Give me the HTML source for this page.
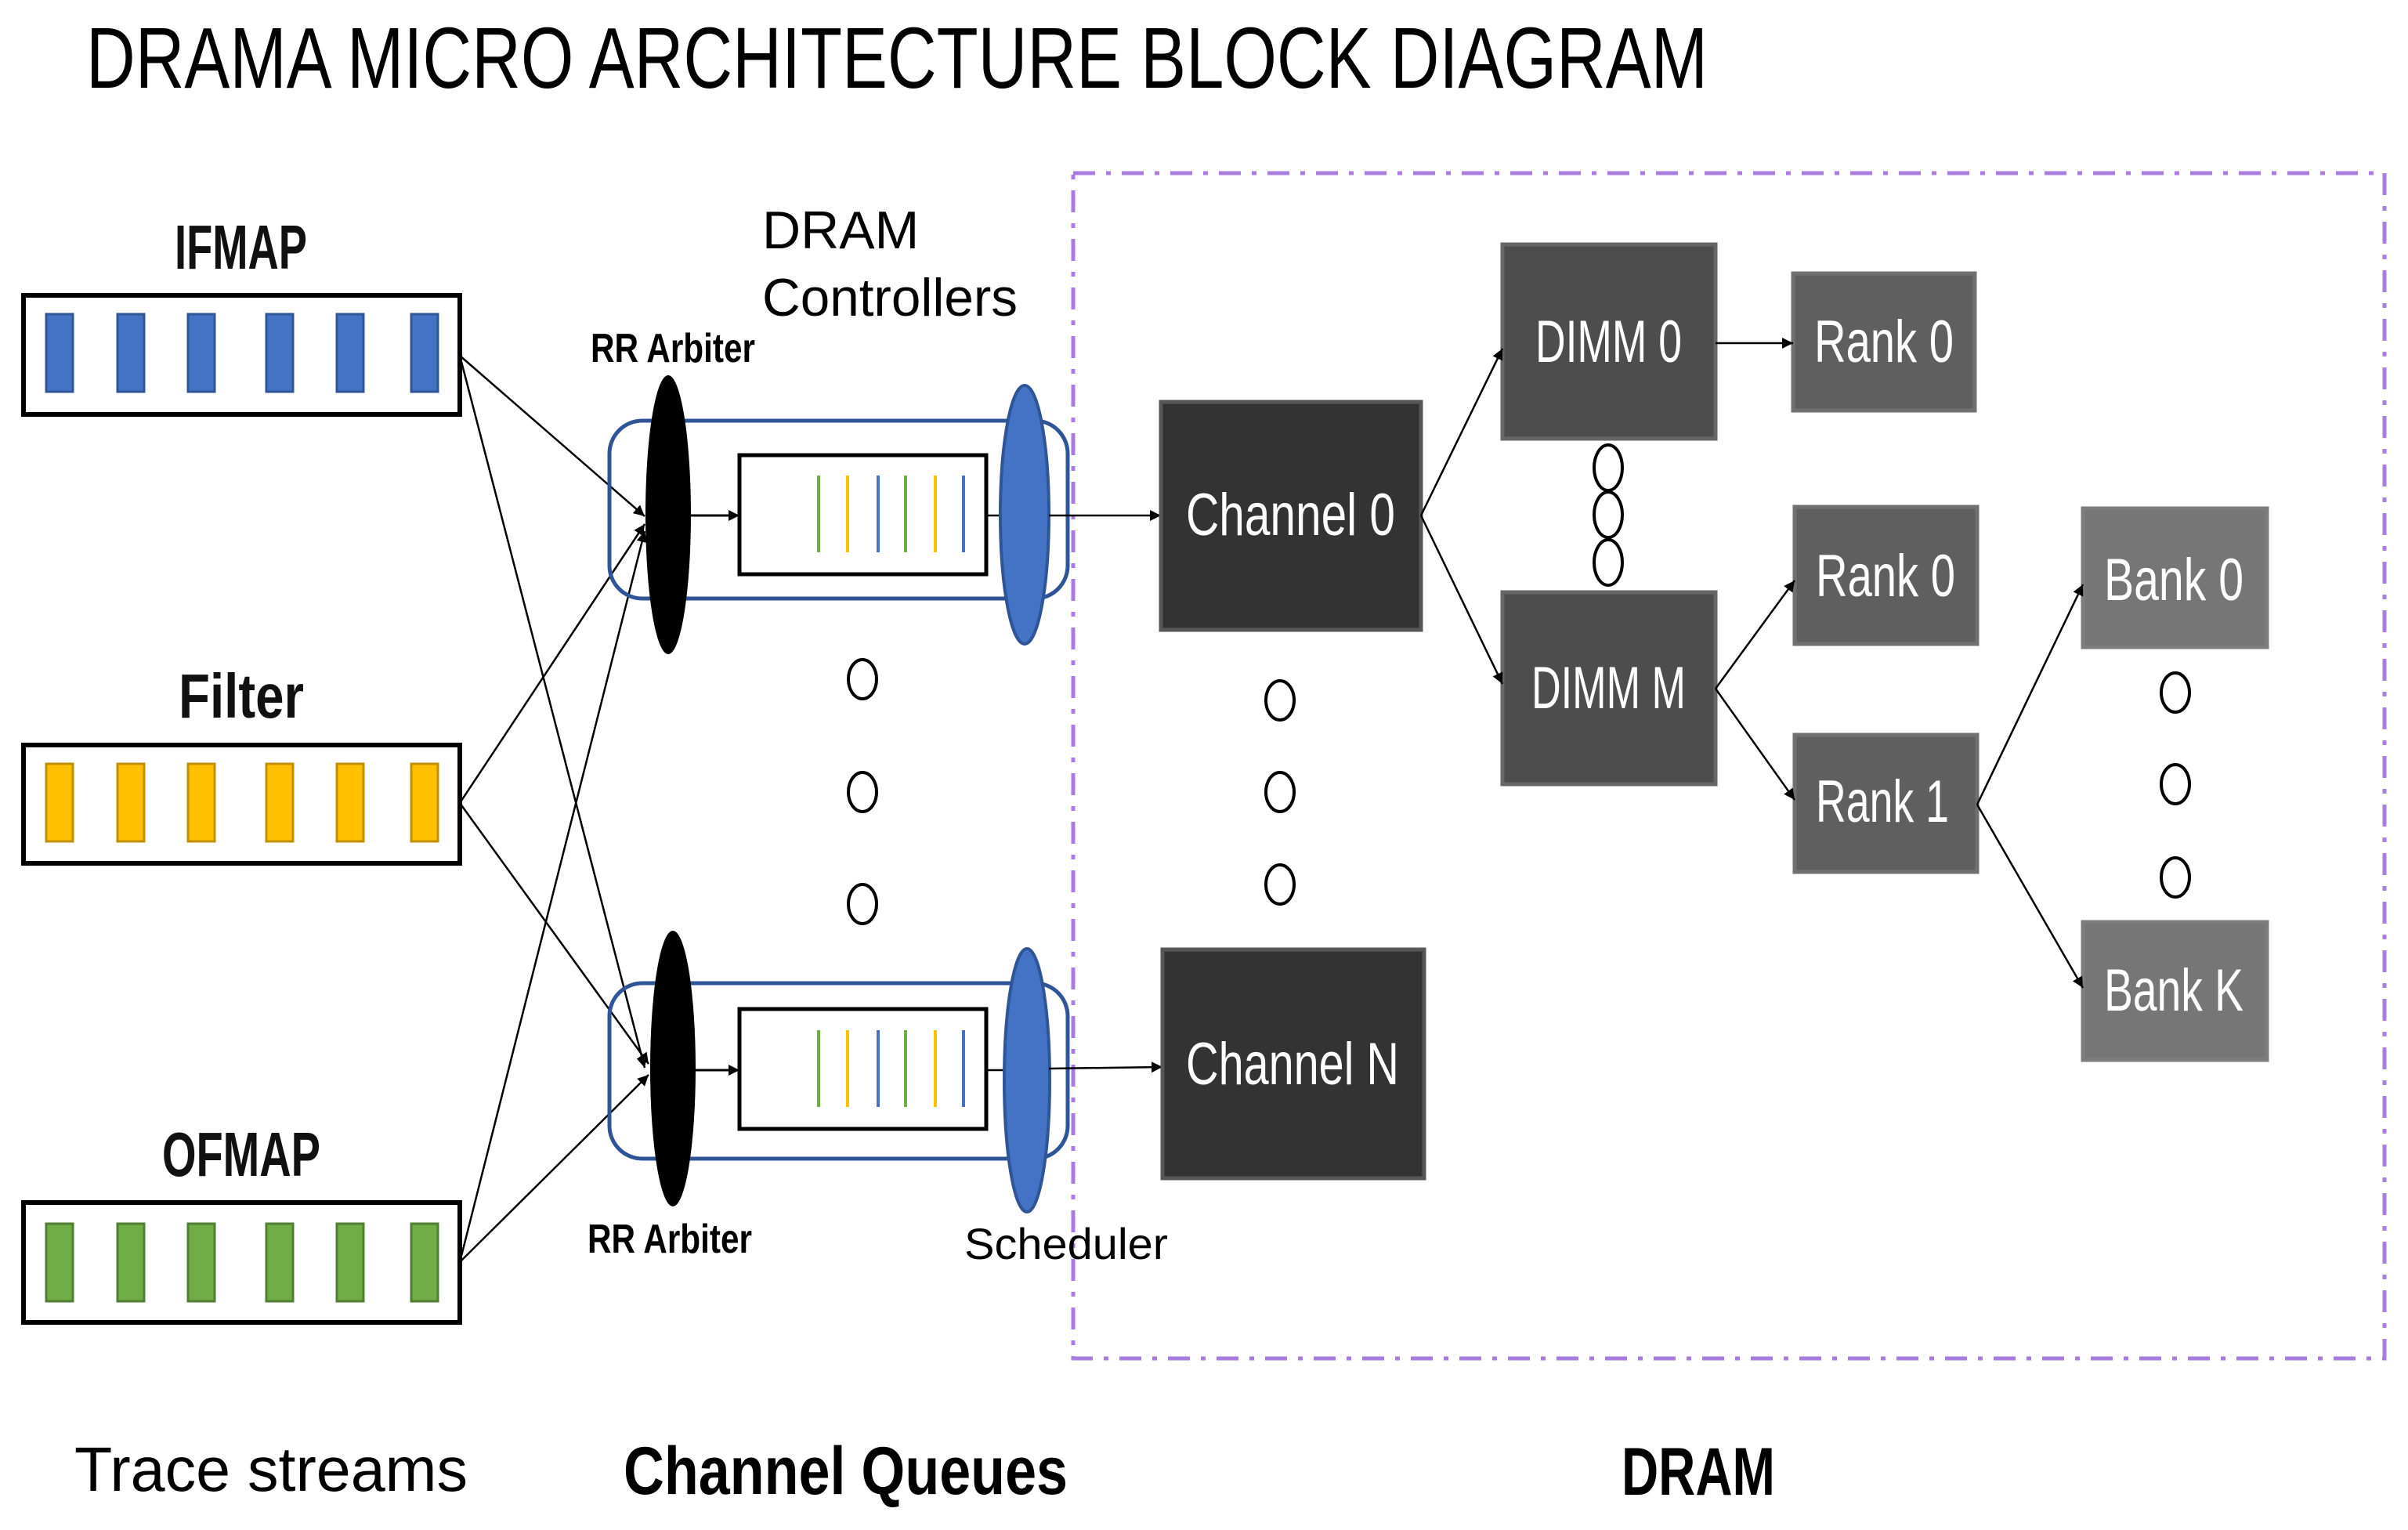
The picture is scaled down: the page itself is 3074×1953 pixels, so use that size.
<!DOCTYPE html>
<html><head><meta charset="utf-8"><style>
html,body{margin:0;padding:0;background:#fff;}
svg{display:block;}
text{font-family:"Liberation Sans",sans-serif;}
</style></head><body>
<svg width="3074" height="1953" viewBox="0 0 3074 1953" xmlns="http://www.w3.org/2000/svg">
<defs>
<marker id="ah" viewBox="0 0 10 10" refX="10" refY="5" markerWidth="14" markerHeight="14" markerUnits="userSpaceOnUse" orient="auto">
<path d="M0,0 L10,5 L0,10 z" fill="#000"/></marker>
</defs>
<rect width="3074" height="1953" fill="#fff"/>
<!-- Title -->
<text x="110" y="112" font-size="110" textLength="2070" lengthAdjust="spacingAndGlyphs">DRAMA MICRO ARCHITECTURE BLOCK DIAGRAM</text>

<!-- dashed DRAM region -->
<rect x="1370" y="221" width="1674" height="1513" fill="none" stroke="#a97de0" stroke-width="5" stroke-dasharray="28,14,6,14"/>

<!-- Trace stream labels -->
<g font-weight="bold" fill="#111">
<text x="223" y="343" font-size="80" textLength="169" lengthAdjust="spacingAndGlyphs">IFMAP</text>
<text x="228" y="916" font-size="80" textLength="160" lengthAdjust="spacingAndGlyphs">Filter</text>
<text x="207" y="1501" font-size="80" textLength="202" lengthAdjust="spacingAndGlyphs">OFMAP</text>
</g>

<!-- Trace boxes -->
<g stroke="#000" stroke-width="6" fill="#fff">
<rect x="30" y="377" width="557" height="152"/>
<rect x="30" y="951" width="557" height="151"/>
<rect x="30" y="1535" width="557" height="153"/>
</g>
<g stroke-width="3">
<g fill="#4472c4" stroke="#2f5597">
<rect x="59" y="401" width="34" height="99"/><rect x="150" y="401" width="34" height="99"/><rect x="240" y="401" width="34" height="99"/><rect x="340" y="401" width="34" height="99"/><rect x="430" y="401" width="34" height="99"/><rect x="525" y="401" width="34" height="99"/>
</g>
<g fill="#ffc000" stroke="#c09000">
<rect x="59" y="975" width="34" height="99"/><rect x="150" y="975" width="34" height="99"/><rect x="240" y="975" width="34" height="99"/><rect x="340" y="975" width="34" height="99"/><rect x="430" y="975" width="34" height="99"/><rect x="525" y="975" width="34" height="99"/>
</g>
<g fill="#70ad47" stroke="#507e32">
<rect x="59" y="1562" width="34" height="99"/><rect x="150" y="1562" width="34" height="99"/><rect x="240" y="1562" width="34" height="99"/><rect x="340" y="1562" width="34" height="99"/><rect x="430" y="1562" width="34" height="99"/><rect x="525" y="1562" width="34" height="99"/>
</g>
</g>

<!-- connectors trace -> arbiters -->
<g stroke="#000" stroke-width="2.5" fill="none" marker-end="url(#ah)">
<line x1="587" y1="454" x2="823" y2="659"/>
<line x1="587" y1="454" x2="823" y2="1363"/>
<line x1="587" y1="1025" x2="823" y2="669"/>
<line x1="587" y1="1025" x2="828" y2="1358"/>
<line x1="587" y1="1611" x2="823" y2="678"/>
<line x1="587" y1="1611" x2="828" y2="1372"/>
</g>

<!-- DRAM Controllers label -->
<text x="973" y="317" font-size="68">DRAM</text>
<text x="973" y="403" font-size="68" textLength="326" lengthAdjust="spacingAndGlyphs">Controllers</text>
<text x="754" y="462" font-size="52" font-weight="bold" textLength="210" lengthAdjust="spacingAndGlyphs">RR Arbiter</text>
<text x="750" y="1599" font-size="52" font-weight="bold" textLength="210" lengthAdjust="spacingAndGlyphs">RR Arbiter</text>
<text x="1231" y="1607" font-size="56" textLength="260" lengthAdjust="spacingAndGlyphs">Scheduler</text>

<!-- Queue 1 -->
<rect x="778" y="537" width="585" height="227" rx="42" fill="none" stroke="#2f5597" stroke-width="5"/>
<ellipse cx="853" cy="657" rx="29" ry="178" fill="#000"/>
<rect x="944" y="581" width="315" height="152" fill="#fff" stroke="#000" stroke-width="5"/>
<line x1="882" y1="658" x2="944" y2="658" stroke="#000" stroke-width="3" marker-end="url(#ah)"/>
<g stroke-width="4">
<line x1="1045" y1="607" x2="1045" y2="705" stroke="#70ad47"/><line x1="1082" y1="607" x2="1082" y2="705" stroke="#ffc000"/><line x1="1121" y1="607" x2="1121" y2="705" stroke="#4472c4"/><line x1="1156" y1="607" x2="1156" y2="705" stroke="#70ad47"/><line x1="1194" y1="607" x2="1194" y2="705" stroke="#ffc000"/><line x1="1230" y1="607" x2="1230" y2="705" stroke="#4472c4"/>
</g>
<line x1="1259" y1="658" x2="1280" y2="658" stroke="#000" stroke-width="2.5"/>
<ellipse cx="1308" cy="657" rx="31" ry="165" fill="#4472c4" stroke="#2f5597" stroke-width="4"/>
<line x1="1339" y1="658" x2="1482" y2="658" stroke="#000" stroke-width="2.5" marker-end="url(#ah)"/>

<!-- Queue 2 -->
<rect x="778" y="1255" width="585" height="224" rx="42" fill="none" stroke="#2f5597" stroke-width="5"/>
<ellipse cx="859" cy="1364" rx="29" ry="176" fill="#000"/>
<rect x="944" y="1288" width="315" height="153" fill="#fff" stroke="#000" stroke-width="5"/>
<line x1="888" y1="1366" x2="944" y2="1366" stroke="#000" stroke-width="3" marker-end="url(#ah)"/>
<g stroke-width="4">
<line x1="1045" y1="1315" x2="1045" y2="1413" stroke="#70ad47"/><line x1="1082" y1="1315" x2="1082" y2="1413" stroke="#ffc000"/><line x1="1121" y1="1315" x2="1121" y2="1413" stroke="#4472c4"/><line x1="1156" y1="1315" x2="1156" y2="1413" stroke="#70ad47"/><line x1="1194" y1="1315" x2="1194" y2="1413" stroke="#ffc000"/><line x1="1230" y1="1315" x2="1230" y2="1413" stroke="#4472c4"/>
</g>
<line x1="1259" y1="1366" x2="1282" y2="1366" stroke="#000" stroke-width="2.5"/>
<ellipse cx="1311" cy="1379" rx="29" ry="168" fill="#4472c4" stroke="#2f5597" stroke-width="4"/>
<line x1="1339" y1="1364" x2="1484" y2="1362" stroke="#000" stroke-width="2.5" marker-end="url(#ah)"/>

<!-- dots -->
<g fill="none" stroke="#000" stroke-width="4">
<ellipse cx="1101" cy="867" rx="18" ry="25"/><ellipse cx="1101" cy="1011" rx="18" ry="25"/><ellipse cx="1101" cy="1154" rx="18" ry="25"/>
<ellipse cx="1634" cy="894" rx="18" ry="25"/><ellipse cx="1634" cy="1011" rx="18" ry="25"/><ellipse cx="1634" cy="1129" rx="18" ry="25"/>
<ellipse cx="2053" cy="597" rx="18" ry="29"/><ellipse cx="2053" cy="657" rx="18" ry="29"/><ellipse cx="2053" cy="718" rx="18" ry="29"/>
<ellipse cx="2777" cy="884" rx="18" ry="25"/><ellipse cx="2777" cy="1001" rx="18" ry="25"/><ellipse cx="2777" cy="1120" rx="18" ry="25"/>
</g>

<!-- DRAM boxes -->
<g stroke-width="5">
<rect x="1482" y="513" width="332" height="291" fill="#333" stroke="#575757"/>
<rect x="1484" y="1212" width="334" height="292" fill="#333" stroke="#575757"/>
<rect x="1918" y="312" width="272" height="248" fill="#4d4d4d" stroke="#666"/>
<rect x="1918" y="756" width="272" height="245" fill="#4d4d4d" stroke="#666"/>
<rect x="2289" y="349" width="232" height="175" fill="#5f5f5f" stroke="#707070"/>
<rect x="2291" y="647" width="233" height="175" fill="#5f5f5f" stroke="#707070"/>
<rect x="2291" y="938" width="233" height="175" fill="#5f5f5f" stroke="#707070"/>
<rect x="2659" y="649" width="235" height="177" fill="#767676" stroke="#7d7d7d"/>
<rect x="2659" y="1177" width="235" height="176" fill="#767676" stroke="#7d7d7d"/>
</g>
<g fill="#fff" font-size="76">
<text x="1514" y="683" textLength="267" lengthAdjust="spacingAndGlyphs">Channel 0</text>
<text x="1514" y="1384" textLength="272" lengthAdjust="spacingAndGlyphs">Channel N</text>
<text x="1960" y="462" textLength="187" lengthAdjust="spacingAndGlyphs">DIMM 0</text>
<text x="1955" y="904" textLength="197" lengthAdjust="spacingAndGlyphs">DIMM M</text>
<text x="2316" y="462" textLength="178" lengthAdjust="spacingAndGlyphs">Rank 0</text>
<text x="2318" y="761" textLength="178" lengthAdjust="spacingAndGlyphs">Rank 0</text>
<text x="2318" y="1049" textLength="170" lengthAdjust="spacingAndGlyphs">Rank 1</text>
<text x="2686" y="766" textLength="178" lengthAdjust="spacingAndGlyphs">Bank 0</text>
<text x="2686" y="1290" textLength="178" lengthAdjust="spacingAndGlyphs">Bank K</text>
</g>

<!-- DRAM connectors -->
<g stroke="#000" stroke-width="2.5" fill="none" marker-end="url(#ah)">
<line x1="1814" y1="658" x2="1918" y2="445"/>
<line x1="1814" y1="658" x2="1918" y2="873"/>
<line x1="2190" y1="438" x2="2289" y2="438"/>
<line x1="2190" y1="879" x2="2291" y2="741"/>
<line x1="2190" y1="879" x2="2291" y2="1021"/>
<line x1="2524" y1="1027" x2="2659" y2="746"/>
<line x1="2524" y1="1027" x2="2659" y2="1261"/>
</g>

<!-- bottom labels -->
<text x="95" y="1903" font-size="80" textLength="502" lengthAdjust="spacingAndGlyphs">Trace streams</text>
<text x="796" y="1907" font-size="86" font-weight="bold" textLength="567" lengthAdjust="spacingAndGlyphs">Channel Queues</text>
<text x="2070" y="1908" font-size="86" font-weight="bold" textLength="196" lengthAdjust="spacingAndGlyphs">DRAM</text>
</svg>
</body></html>
